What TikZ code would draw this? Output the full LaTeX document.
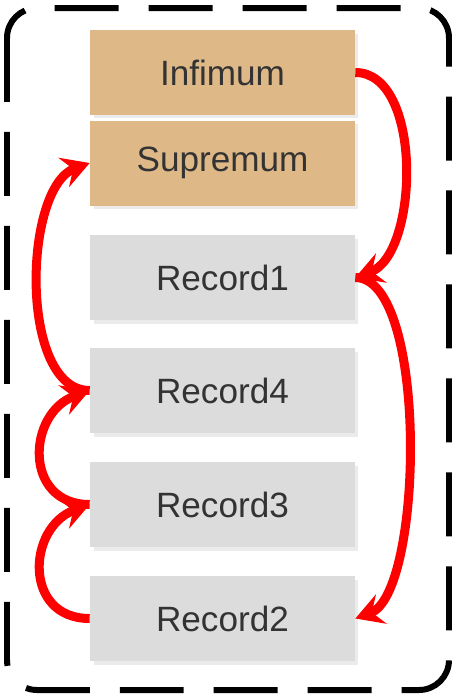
\documentclass[tikz,border=0pt]{standalone}
\usepackage{fontspec}
\setmainfont{Liberation Sans}
\usepackage{tikz}
\usetikzlibrary{positioning,arrows.meta,shadows}
\definecolor{tan}{HTML}{DEB887}
\definecolor{recgray}{HTML}{DCDCDC}
\definecolor{txtgray}{HTML}{333333}

\begin{document}
\begin{tikzpicture}[x=0.02cm,y=-0.02cm,
  slot/.style={minimum width=5.3cm,minimum height=1.7cm,inner sep=0pt,
    text=txtgray,font=\fontsize{20}{24}\selectfont,
    drop shadow={shadow xshift=0.07cm,shadow yshift=-0.07cm,fill=black!8,opacity=1}},
  bound/.style={slot,fill=tan},
  rec/.style={slot,fill=recgray},
  link/.style={red,line width=0.18cm,-{Stealth[length=0.55cm,width=0.62cm,inset=0.2cm]}}]
\useasboundingbox (0,0) rectangle (458,698);
\draw[line width=0.12cm,rounded corners=0.6cm,dash pattern=on 1.28cm off 0.6cm,dash phase=0cm] (7,8) rectangle (449,690);
\node[bound] (inf) at (222.5,72.5) {Infimum};
\node[bound] (sup) at (222.5,163) {Supremum};
\node[rec] (r1) at (222.5,277.5) {Record1};
\node[rec] (r4) at (222.5,390.5) {Record4};
\node[rec] (r3) at (222.5,504.5) {Record3};
\node[rec] (r2) at (222.5,618.5) {Record2};
\draw[link] (inf.east) to[out=0,in=20,looseness=0.85] (r1.east);
\draw[link] (r1.east) to[out=0,in=20,looseness=0.55] (r2.east);
\draw[link] (r4.west) to[out=180,in=200,looseness=0.8] (sup.west);
\draw[link] (r3.west) to[out=180,in=200,looseness=1.5] (r4.west);
\draw[link] (r2.west) to[out=180,in=200,looseness=1.5] (r3.west);
\end{tikzpicture}
\end{document}
